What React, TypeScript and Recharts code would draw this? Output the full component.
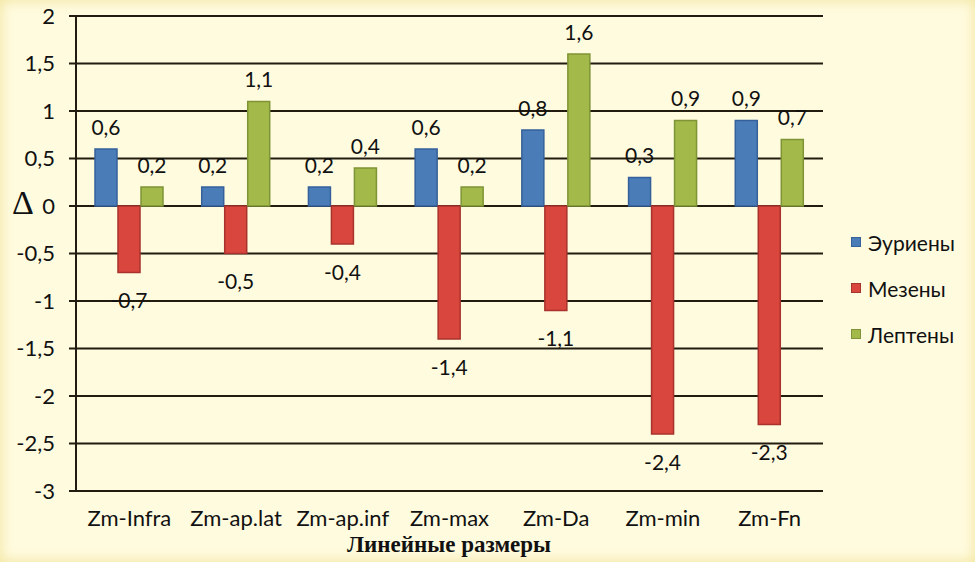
import React from 'react';
import { BarChart, Bar, XAxis, YAxis, CartesianGrid } from 'recharts';

const categories = ['Zm-Infra', 'Zm-ap.lat', 'Zm-ap.inf', 'Zm-max', 'Zm-Da', 'Zm-min', 'Zm-Fn'];
const eurieny = [0.6, 0.2, 0.2, 0.6, 0.8, 0.3, 0.9];
const mezeny = [-0.7, -0.5, -0.4, -1.4, -1.1, -2.4, -2.3];
const lepteny = [0.2, 1.1, 0.4, 0.2, 1.6, 0.9, 0.7];
const yTicks = [-3, -2.5, -2, -1.5, -1, -0.5, 0, 0.5, 1, 1.5, 2];

const series = [
  { key: 'eurieny', name: 'Эуриены', fill: '#4A7DB8', stroke: '#36609A' },
  { key: 'mezeny', name: 'Мезены', fill: '#D8463E', stroke: '#A8332C' },
  { key: 'lepteny', name: 'Лептены', fill: '#A3B949', stroke: '#7F9436' },
];

const data = categories.map((name, i) => ({
  name,
  eurieny: eurieny[i],
  mezeny: mezeny[i],
  lepteny: lepteny[i],
}));

const FONT = 'Lato, "Open Sans", sans-serif';
const comma = (v: number) => String(v).replace('.', ',');

const renderLabel = (props: any) => {
  const { x, y, width, height, value } = props;
  const top = Math.min(y, y + height);
  const bottom = Math.max(y, y + height);
  const cx = x + width / 2;
  const cy = value >= 0 ? top - 23 : bottom + 27;
  return (
    <text
      x={cx}
      y={cy}
      textAnchor="middle"
      dominantBaseline="central"
      fill="#111"
      fontSize={21}
      fontFamily={FONT}
    >
      {comma(value)}
    </text>
  );
};

export default function App() {
  return (
    <div
      style={{
        position: 'fixed',
        top: 0,
        left: 0,
        width: 975,
        height: 562,
        background: '#FFFBDF',
        boxShadow: 'inset 0 0 14px rgba(225, 200, 70, 0.45)',
        overflow: 'hidden',
      }}
    >
      <BarChart
        width={975}
        height={562}
        data={data}
        margin={{ top: 16, right: 152, bottom: 41, left: 0 }}
        barSize={22}
        barGap={1}
      >
        <CartesianGrid vertical={false} stroke="#221C10" strokeWidth={2} />
        <XAxis
          dataKey="name"
          height={30}
          axisLine={{ stroke: '#221C10', strokeWidth: 2 }}
          tickLine={false}
          tickSize={0}
          tickMargin={19}
          interval={0}
          tick={{ fill: '#111', fontSize: 22, fontFamily: FONT }}
        />
        <YAxis
          width={76}
          domain={[-3, 2]}
          ticks={yTicks}
          interval={0}
          tickFormatter={comma}
          axisLine={{ stroke: '#221C10', strokeWidth: 2 }}
          tickLine={{ stroke: '#221C10', strokeWidth: 2 }}
          tickSize={7}
          tickMargin={14}
          tick={{ fill: '#111', fontSize: 22, fontFamily: FONT }}
        />
        {series.map((s) => (
          <Bar
            key={s.key}
            dataKey={s.key}
            name={s.name}
            fill={s.fill}
            stroke={s.stroke}
            strokeWidth={1.5}
            isAnimationActive={false}
            label={renderLabel}
          />
        ))}
      </BarChart>
      <div
        style={{
          position: 'absolute',
          left: 12,
          top: 184,
          fontFamily: '"Liberation Serif", serif',
          fontSize: 34,
          color: '#111',
        }}
      >
        Δ
      </div>
      <div
        style={{
          position: 'absolute',
          left: 249,
          width: 400,
          top: 532,
          textAlign: 'center',
          fontFamily: '"Liberation Serif", serif',
          fontWeight: 'bold',
          fontSize: 23,
          color: '#111',
        }}
      >
        Линейные размеры
      </div>
      <div style={{ position: 'absolute', left: 851, top: 219 }}>
        {series.map((s) => (
          <div
            key={s.key}
            style={{
              display: 'flex',
              alignItems: 'center',
              height: 46,
              fontFamily: FONT,
              fontSize: 21,
              color: '#111',
            }}
          >
            <span
              style={{
                display: 'inline-block',
                width: 8,
                height: 8,
                background: s.fill,
                border: `1px solid ${s.stroke}`,
                marginRight: 7,
              }}
            />
            {s.name}
          </div>
        ))}
      </div>
    </div>
  );
}
